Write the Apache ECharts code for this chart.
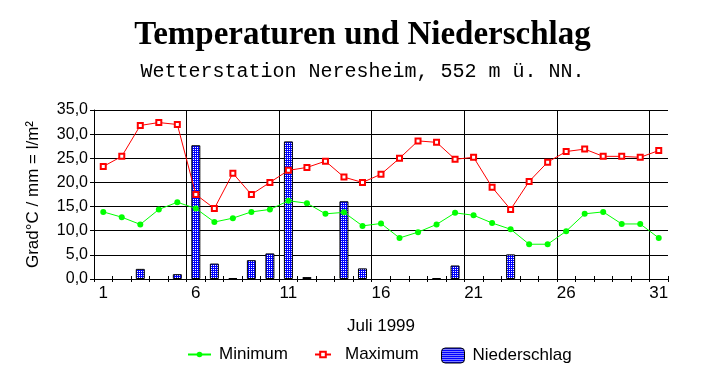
<!DOCTYPE html>
<html>
<head>
<meta charset="utf-8">
<script src="https://cdn.jsdelivr.net/npm/echarts@6/dist/echarts.min.js"></script>
<style>html,body{margin:0;padding:0;background:#fff}#c{width:725px;height:384px}</style>
</head>
<body>
<div id="c"></div>
<script>
var days = ['1','2','3','4','5','6','7','8','9','10','11','12','13','14','15','16','17','18','19','20','21','22','23','24','25','26','27','28','29','30','31'];
var minimum = [13.9,12.8,11.3,14.4,15.9,14.6,11.8,12.6,13.9,14.4,16.2,15.7,13.5,13.8,11.0,11.5,8.5,9.7,11.3,13.7,13.2,11.6,10.3,7.2,7.2,9.9,13.5,13.9,11.4,11.4,8.5];
var maximum = [23.3,25.4,31.8,32.4,32.0,17.5,14.6,21.9,17.5,20.0,22.5,23.1,24.4,21.1,20.0,21.7,25.0,28.6,28.3,24.8,25.2,19.0,14.4,20.2,24.2,26.4,26.9,25.4,25.4,25.2,26.6];
var niederschlag = [0,0,2.1,0,1.0,27.7,3.2,0.2,3.9,5.3,28.5,0.4,0,16.1,2.2,0,0,0,0.2,2.8,0,0,5.1,0,0,0,0,0,0,0,0];

// day boundaries (0.5 .. 31.5) for the vertical grid lines
var boundaries = [];
for (var b = 0; b <= days.length; b++) boundaries.push(String(b));

var pc = document.createElement('canvas');
pc.width = 2; pc.height = 2;
var px = pc.getContext('2d');
px.fillStyle = '#0000ff'; px.fillRect(0,0,2,2);
px.fillStyle = '#ffffff'; px.fillRect(1,1,1,1);
var pattern = {image: pc, repeat: 'repeat'};

var font = 'Liberation Sans';
var legendText = {fontFamily: font, fontSize: 17, color: '#000'};
var chart = echarts.init(document.getElementById('c'));
chart.setOption({
  animation: false,
  backgroundColor: '#ffffff',
  title: [
    {text: 'Temperaturen und Niederschlag', left: 'center', top: 14,
     textStyle: {fontFamily: 'Liberation Serif', fontWeight: 'bold', fontSize: 33, color: '#000'}},
    {text: 'Wetterstation Neresheim, 552 m ü. NN.', left: 'center', top: 57,
     textStyle: {fontFamily: 'Liberation Mono', fontWeight: 'normal', fontSize: 20, color: '#000'}}
  ],
  legend: [
    {left: 187, top: 346, padding: 0, itemWidth: 23, itemHeight: 7,
     textStyle: Object.assign({padding: [0,0,0,3]}, legendText), data: ['Minimum']},
    {left: 314, top: 346, padding: 0, itemWidth: 16, itemHeight: 7,
     textStyle: Object.assign({padding: [0,0,0,9]}, legendText), data: ['Maximum']},
    {left: 441, top: 347, padding: 0, itemWidth: 23, itemHeight: 15,
     textStyle: Object.assign({padding: [0,0,0,3]}, legendText),
     data: [{name: 'Niederschlag', itemStyle: {color: pattern, borderColor: '#000', borderWidth: 1}}]}
  ],
  grid: {left: 94, right: 57, top: 110, bottom: 105},
  xAxis: [{
    type: 'category', data: days, boundaryGap: true,
    name: 'Juli 1999', nameLocation: 'middle', nameGap: 39,
    nameTextStyle: {fontFamily: font, fontSize: 17, color: '#000'},
    axisLine: {lineStyle: {color: '#000', width: 1}},
    axisTick: {show: true, interval: 0, length: 3, lineStyle: {color: '#000'}},
    axisLabel: {interval: 4, fontFamily: font, fontSize: 17, color: '#000', margin: 6},
    splitLine: {show: false}
  }, {
    type: 'category', data: days, boundaryGap: true, position: 'bottom',
    axisLine: {show: false},
    axisTick: {show: true, inside: true, interval: 0, length: 3, lineStyle: {color: '#000'}},
    axisLabel: {show: false}, splitLine: {show: false}
  }, {
    type: 'category', data: boundaries, boundaryGap: false, position: 'bottom',
    axisLine: {show: false}, axisTick: {show: false}, axisLabel: {show: false},
    splitLine: {show: true, interval: function (i) { return i % 5 === 0 && i < days.length; },
      lineStyle: {color: '#000', width: 1}}
  }],
  yAxis: {
    type: 'value', min: 0, max: 35, interval: 5,
    name: 'Grad°C / mm = l/m²', nameLocation: 'middle', nameGap: 52, nameRotate: 90,
    nameTextStyle: {fontFamily: font, fontSize: 17, color: '#000'},
    axisLine: {show: true, lineStyle: {color: '#000', width: 1}},
    axisTick: {show: true, length: 4, lineStyle: {color: '#000'}},
    axisLabel: {fontFamily: font, fontSize: 16, color: '#000', margin: 6,
      formatter: function (v) { return v.toFixed(1).replace('.', ','); }},
    splitLine: {show: true, lineStyle: {color: '#000', width: 1}}
  },
  series: [
    {name: 'Niederschlag', type: 'bar', barWidth: 9,
     data: niederschlag.map(function (v) { return v === 0 ? null : v; }),
     itemStyle: {color: pattern, borderColor: '#000', borderWidth: 1}},
    {name: 'Minimum', type: 'line', data: minimum, symbol: 'circle', symbolSize: 6,
     lineStyle: {color: '#00ff00', width: 1}, itemStyle: {color: '#00ff00'}},
    {name: 'Maximum', type: 'line', data: maximum, symbol: 'emptyRect', symbolSize: 5,
     lineStyle: {color: '#ff0000', width: 1}, itemStyle: {color: '#ff0000', borderColor: '#ff0000', borderWidth: 1}}
  ]
});
</script>
</body>
</html>
